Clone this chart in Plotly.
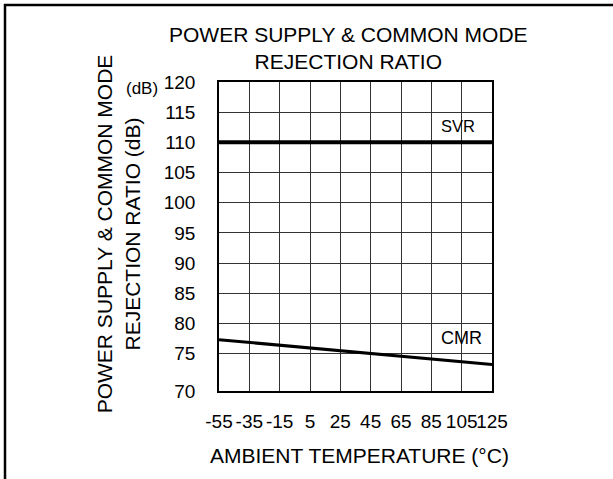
import plotly.graph_objects as go

# ---- data ----
temps = [-55, 125]
svr_db = [110.0, 110.0]
cmr_db = [77.3, 73.2]

x_tick_vals = [-55, -35, -15, 5, 25, 45, 65, 85, 105, 125]
x_tick_text = ["-55", "-35", "-15", "5", "25", "45", "65", "85", "105", "125"]
y_min, y_max = 68.8, 120
y_tick_vals = [68.8, 75, 80, 85, 90, 95, 100, 105, 110, 115, 120]
y_tick_text = ["70", "75", "80", "85", "90", "95", "100", "105", "110", "115", "120"]

FONT = "Liberation Sans, Arial, sans-serif"

fig = go.Figure()
fig.add_trace(go.Scatter(x=temps, y=svr_db, mode="lines", name="SVR",
                         line=dict(color="black", width=4), showlegend=False))
fig.add_trace(go.Scatter(x=temps, y=cmr_db, mode="lines", name="CMR",
                         line=dict(color="black", width=3), showlegend=False))

L, R, T, B = 219, 121, 82, 88
W, H = 613, 479
pw, ph = W - L - R, H - T - B

def px(x):
    return (x - L) / pw

def py(y):
    return (H - B - y) / ph

annotations = [
    dict(text="POWER SUPPLY & COMMON MODE<br>REJECTION RATIO", x=px(348), y=py(48),
         xref="paper", yref="paper", showarrow=False, xanchor="center", yanchor="middle",
         font=dict(size=21, color="black", family=FONT)),
    dict(text="POWER SUPPLY & COMMON MODE<br>REJECTION RATIO (dB)", x=px(118.3), y=py(234),
         xref="paper", yref="paper", showarrow=False, xanchor="center", yanchor="middle",
         textangle=-90, font=dict(size=21, color="black", family=FONT)),
    dict(text="AMBIENT TEMPERATURE (°C)", x=px(359.5), y=py(455),
         xref="paper", yref="paper", showarrow=False, xanchor="center", yanchor="middle",
         font=dict(size=21, color="black", family=FONT)),
    dict(text="(dB)", x=px(141.5), y=py(88), xref="paper", yref="paper", showarrow=False,
         xanchor="center", yanchor="middle", font=dict(size=17, color="black", family=FONT)),
    dict(text="SVR", x=102.6, y=112.7, xref="x", yref="y", showarrow=False,
         xanchor="center", yanchor="middle", font=dict(size=16.5, color="black", family=FONT)),
    dict(text="CMR", x=104.6, y=77.5, xref="x", yref="y", showarrow=False,
         xanchor="center", yanchor="middle", font=dict(size=18, color="black", family=FONT)),
]

shapes = [
    dict(type="line", xref="paper", yref="paper", x0=px(4), x1=px(613), y0=py(5), y1=py(5),
         line=dict(color="black", width=2.5)),
    dict(type="line", xref="paper", yref="paper", x0=px(5), x1=px(5), y0=py(4), y1=py(479),
         line=dict(color="black", width=2.5)),
]

fig.update_layout(
    width=W, height=H,
    margin=dict(l=L, r=R, t=T, b=B, pad=0),
    paper_bgcolor="white", plot_bgcolor="white",
    font=dict(family=FONT, color="black"),
    annotations=annotations, shapes=shapes,
    xaxis=dict(range=[-55, 125], tickvals=x_tick_vals, ticktext=x_tick_text,
               showgrid=True, gridcolor="#333333", gridwidth=1,
               showline=True, linecolor="black", linewidth=1.5, mirror=True,
               ticks="outside", ticklen=12, tickcolor="rgba(0,0,0,0)", tickangle=0,
               tickfont=dict(size=19, color="black", family=FONT), zeroline=False),
    yaxis=dict(range=[y_min, y_max], tickvals=y_tick_vals, ticktext=y_tick_text,
               showgrid=True, gridcolor="#333333", gridwidth=1,
               showline=True, linecolor="black", linewidth=1.5, mirror=True,
               ticks="outside", ticklen=18, tickcolor="rgba(0,0,0,0)",
               tickfont=dict(size=19, color="black", family=FONT), zeroline=False),
)

fig.write_html("out.html", config={"displayModeBar": False},
               post_script="document.body.style.margin='0';document.body.style.overflow='hidden';")
